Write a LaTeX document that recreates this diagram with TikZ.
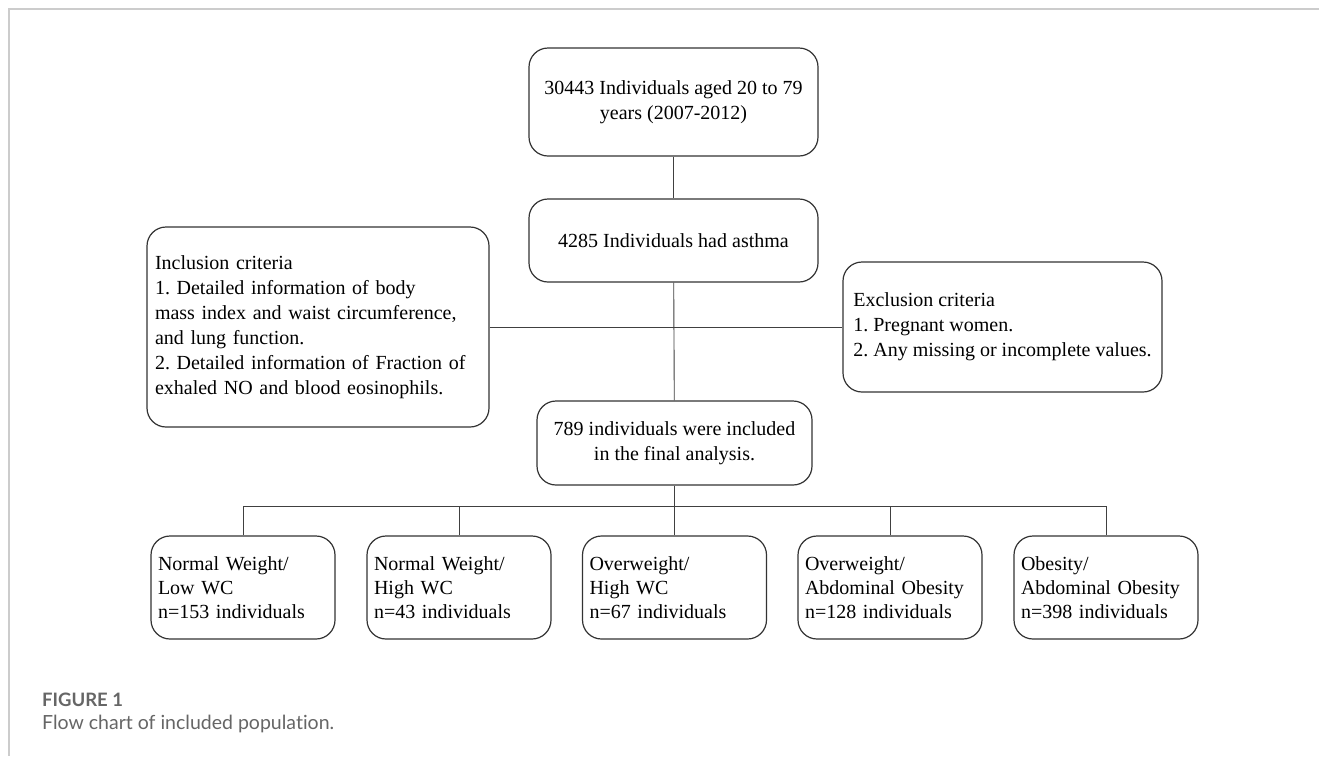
\documentclass[tikz,border=0pt]{standalone}
\usepackage{fontspec}
\setmainfont{Liberation Serif}
\newfontfamily\capfont[Ligatures=NoCommon]{Lato}
\usepackage{tikz}
\frenchspacing

\begin{document}
\begin{tikzpicture}[x=1pt, y=-1pt,
		box/.style={draw=black!80, line width=1.2pt, rounded corners=19pt, fill=white,
			font=\fontsize{20}{25}\selectfont, inner sep=0pt},
		leftbox/.style={box, align=left},
		groupbox/.style={leftbox, minimum width=184pt, minimum height=103pt, text width=170pt,
			font=\fontsize{20}{24}\selectfont},
		link/.style={draw=black!75, line width=0.9pt}]
		\useasboundingbox (0, 0) rectangle (1319, 756);
		\fill[white] (0, 0) rectangle (1319, 756);

		% frame of the figure
		\draw[black!20, line width=1.6pt] (1319, 9) -- (9, 9) -- (9, 756);

		\node[box, align=center, minimum width=289pt, minimum height=108pt] (total) at (673.5, 102) {30443 Individuals aged 20 to 79\\years (2007-2012)};
		\node[box, align=center, minimum width=289pt, minimum height=83pt] (asthma) at (673.5, 240.5) {4285 Individuals had asthma};

		\node[leftbox, minimum width=342pt, minimum height=200pt, text width=326pt] (incl) at (318, 327) {Inclusion criteria\\1. Detailed information of body\\mass index and waist circumference,\\and lung function.\\2. Detailed information of Fraction of\\exhaled NO and blood eosinophils.};
		\node[leftbox, minimum width=319pt, minimum height=130pt] (excl) at (1002.5, 327) {Exclusion criteria\\1. Pregnant women.\\2. Any missing or incomplete values.};

		\node[box, align=center, minimum width=275pt, minimum height=84pt] (final) at (674.5, 443) {789 individuals were included\\in the final analysis.};

		\node[groupbox] (g1) at (243, 587.5) {Normal Weight/\\Low WC\\n=153 individuals};
		\node[groupbox] (g2) at (459, 587.5) {Normal Weight/\\High WC\\n=43 individuals};
		\node[groupbox] (g3) at (674.5, 587.5) {Overweight/\\High WC\\n=67 individuals};
		\node[groupbox] (g4) at (890, 587.5) {Overweight/\\Abdominal Obesity\\n=128 individuals};
		\node[groupbox] (g5) at (1106, 587.5) {Obesity/\\Abdominal Obesity\\n=398 individuals};

		\coordinate (bus) at (674.5, 506);

		\draw[link] (total) -- (asthma);
		\draw[link] (asthma) -- (final);
		\draw[link] (incl) -- (excl);
		\draw[link] (final) -- (bus);
		\draw[link] (g1.north) |- (bus) -| (g5.north);
		\draw[link] (g2.north) -- (g2.north |- bus);
		\draw[link] (g3.north) -- (bus);
		\draw[link] (g4.north) -- (g4.north |- bus);

		% caption
		\node[anchor=base west, inner sep=0pt, text=black!60, font=\capfont\bfseries\fontsize{18.5}{22}\selectfont] (figno) at (42, 706) {FIGURE 1};
		\node[anchor=base west, inner sep=0pt, text=black!60, font=\capfont\fontsize{19.5}{22}\selectfont] (figcap) at (42, 729) {Flow chart of included population.};
	\end{tikzpicture}
\end{document}
